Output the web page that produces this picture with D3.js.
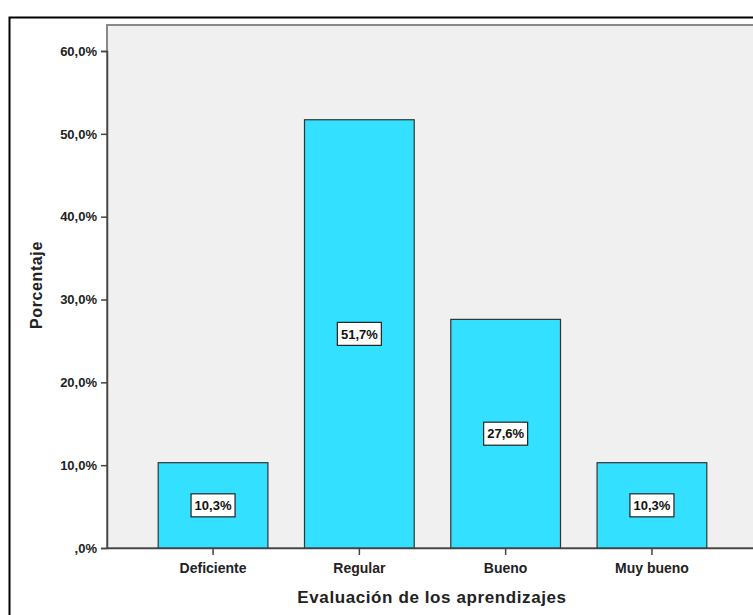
<!DOCTYPE html>
<html>
<head>
<script src="https://d3js.org/d3.v7.min.js"></script>
<style>
body { margin: 0; background: #fff; }
text { font-family: "Liberation Sans", Arial, sans-serif; }
</style>
</head>
<body>
<script>
var categories = ["Deficiente", "Regular", "Bueno", "Muy bueno"];
var values = [10.3, 51.7, 27.6, 10.3];
var yTicks = [0, 10, 20, 30, 40, 50, 60];

var W = 753, H = 615;
var plot = {left: 107, top: 25, right: 760, bottom: 548};

var svg = d3.select("body").append("svg")
    .attr("width", W)
    .attr("height", H);

// outer frame
svg.append("rect")
    .attr("x", 9.5).attr("y", 17.5)
    .attr("width", 800).attr("height", 700)
    .attr("fill", "#fff")
    .attr("stroke", "#000")
    .attr("stroke-width", 2);

var yScale = d3.scaleLinear().domain([0, 60]).range([plot.bottom, 51]);
var xScale = d3.scaleBand().domain(categories)
    .range([plot.left, 758])
    .paddingInner(0.25)
    .paddingOuter(0.35);

// plot background
svg.append("rect")
    .attr("x", plot.left).attr("y", plot.top)
    .attr("width", plot.right - plot.left).attr("height", plot.bottom - plot.top)
    .attr("fill", "#f0f0f0")
    .attr("stroke", "#888")
    .attr("stroke-width", 2);

function fmt(v, d) {
  var s = v.toFixed(d).replace(".", ",");
  if (s.indexOf("0,") === 0) s = s.slice(1);
  return s + "%";
}

// bars
svg.selectAll(".bar")
    .data(values)
  .enter().append("rect")
    .attr("class", "bar")
    .attr("x", function(d, i) { return xScale(categories[i]); })
    .attr("y", function(d) { return yScale(d); })
    .attr("width", xScale.bandwidth())
    .attr("height", function(d) { return yScale(0) - yScale(d); })
    .attr("fill", "#33e0ff")
    .attr("stroke", "#333")
    .attr("stroke-width", 1.2);

// value labels
var lab = svg.selectAll(".lab")
    .data(values)
  .enter().append("g")
    .attr("class", "lab")
    .attr("transform", function(d, i) {
      return "translate(" + (xScale(categories[i]) + xScale.bandwidth() / 2) + "," + ((yScale(d) + yScale(0)) / 2) + ")";
    });
lab.append("rect")
    .attr("x", -22).attr("y", -11.5)
    .attr("width", 44).attr("height", 23)
    .attr("fill", "#fff")
    .attr("stroke", "#222")
    .attr("stroke-width", 1.2);
lab.append("text")
    .attr("text-anchor", "middle")
    .attr("dy", "0.36em")
    .style("font-size", "13px")
    .style("font-weight", "bold")
    .attr("fill", "#111")
    .text(function(d) { return fmt(d, 1); });

// y axis
var yAxis = d3.axisLeft(yScale).tickValues(yTicks).tickSize(6)
    .tickFormat(function(d) { return fmt(d, 1); });
var gy = svg.append("g")
    .attr("transform", "translate(" + plot.left + ",0)")
    .call(yAxis);
gy.select(".domain").attr("stroke", "#444").attr("stroke-width", 1.5);
gy.selectAll(".tick line").attr("stroke", "#444").attr("stroke-width", 1.5);
gy.selectAll(".tick text")
    .attr("x", -10)
    .style("font-size", "13px")
    .style("font-weight", "bold")
    .attr("fill", "#222");

// x axis
var xAxis = d3.axisBottom(xScale).tickSize(7).tickSizeOuter(0);
var gx = svg.append("g")
    .attr("transform", "translate(0," + plot.bottom + ")")
    .call(xAxis);
gx.select(".domain").attr("stroke", "#444").attr("stroke-width", 1.5);
gx.selectAll(".tick line").attr("stroke", "#444").attr("stroke-width", 1.5);
gx.selectAll(".tick text")
    .attr("y", 15)
    .style("font-size", "14px")
    .style("font-weight", "bold")
    .attr("fill", "#222");

// axis titles
svg.append("text")
    .attr("x", 432).attr("y", 603)
    .attr("text-anchor", "middle")
    .style("font-size", "17px")
    .style("font-weight", "bold")
    .style("letter-spacing", "0.6px")
    .attr("fill", "#222")
    .text("Evaluación de los aprendizajes");

svg.append("text")
    .attr("transform", "translate(42,285) rotate(-90)")
    .attr("text-anchor", "middle")
    .style("font-size", "16px")
    .style("font-weight", "bold")
    .style("letter-spacing", "0.6px")
    .attr("fill", "#222")
    .text("Porcentaje");
</script>
</body>
</html>
